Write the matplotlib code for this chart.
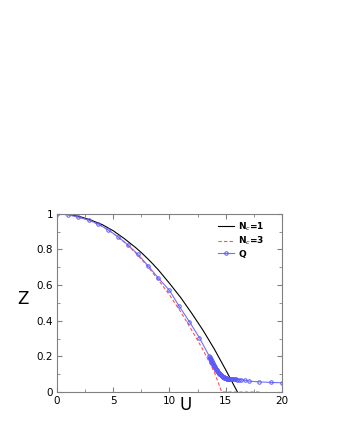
import numpy as np
import matplotlib.pyplot as plt

# N_c = 1 (black solid)
u_nc1 = [0, 1, 2, 3, 4, 5, 6, 7, 7.5, 8, 8.5, 9, 10, 11, 12, 13, 14, 15, 16.05]
z_nc1 = [1.0, 0.996, 0.985, 0.965, 0.94, 0.905, 0.86, 0.81, 0.782, 0.752, 0.72, 0.686, 0.61, 0.53, 0.44, 0.345, 0.24, 0.125, 0.0]

# N_c = 3 (red dashed)
u_nc3 = [0, 1, 2, 3, 4, 5, 6, 7, 8, 9, 10, 11, 12, 13, 14, 14.65, 16, 17, 18]
z_nc3 = [1.0, 0.995, 0.98, 0.96, 0.93, 0.89, 0.84, 0.78, 0.71, 0.63, 0.545, 0.45, 0.345, 0.235, 0.11, 0.0, 0.0, 0.0, 0.0]

# Q (blue, open circles)
u_q = [0, 1, 1.9, 2.8, 3.65, 4.5, 5.4, 6.3, 7.2, 8.1, 9.0, 10.0, 10.85, 11.77, 12.66,
       13.55, 13.58, 13.61, 13.64, 13.67, 13.7, 13.73, 13.76, 13.79, 13.82, 13.85, 13.88,
       13.91, 13.94, 13.97, 14.0, 14.03, 14.06, 14.09, 14.12, 14.15, 14.18, 14.21, 14.24,
       14.27, 14.3, 14.33, 14.36, 14.39, 14.42, 14.45, 14.48, 14.51, 14.54, 14.57, 14.6,
       14.63, 14.66, 14.69, 14.72, 14.75, 14.78, 14.81, 14.84, 14.87, 14.9, 14.93, 14.96,
       14.99, 15.02, 15.05, 15.08, 15.11, 15.15, 15.2, 15.25, 15.3, 15.35, 15.4, 15.45,
       15.5, 15.55, 15.6, 15.7, 15.8, 15.9, 16.0, 16.2, 16.4, 16.7, 17.1, 18.0, 19.0, 20.0]
z_q = [1.0, 0.994, 0.981, 0.965, 0.943, 0.912, 0.872, 0.826, 0.772, 0.708, 0.64, 0.57, 0.483, 0.395, 0.305,
       0.200, 0.196, 0.192, 0.188, 0.184, 0.180, 0.176, 0.172, 0.168, 0.165, 0.161, 0.158,
       0.154, 0.151, 0.147, 0.144, 0.141, 0.138, 0.135, 0.132, 0.129, 0.126, 0.123, 0.121,
       0.118, 0.115, 0.113, 0.110, 0.108, 0.106, 0.104, 0.102, 0.100, 0.098, 0.096, 0.094,
       0.092, 0.090, 0.089, 0.087, 0.086, 0.084, 0.083, 0.082, 0.081, 0.080, 0.079, 0.078,
       0.077, 0.0765, 0.076, 0.0755, 0.075, 0.0747, 0.0744, 0.0741, 0.0738, 0.0735, 0.0732, 0.0729,
       0.0726, 0.0723, 0.072, 0.0715, 0.071, 0.0705, 0.070, 0.069, 0.068, 0.066, 0.061, 0.057, 0.054, 0.052]

fig = plt.figure(figsize=(3.4, 4.4), dpi=100)
ax = fig.add_axes([0.168, 0.109, 0.661, 0.405])

ax.plot(u_nc1, z_nc1, color='black', lw=0.8, label='N$_c$=1')
ax.plot(u_nc3, z_nc3, color='#ff5050', lw=0.8, ls=(0, (3, 2)), label='N$_c$=3')
ax.plot(u_q, z_q, color='#7070ff', lw=0.8, marker='o', ms=2.5, mfc='none', mec='#5a5aff',
        mew=0.7, label='Q')

ax.set_xlim(0, 20)
ax.set_ylim(0, 1)
ax.set_xticks([0, 5, 10, 15, 20])
ax.set_xticklabels(['0', '5', '10', '15', '20'])
ax.set_yticks([0, 0.2, 0.4, 0.6, 0.8, 1])
ax.set_yticklabels(['0', '0.2', '0.4', '0.6', '0.8', '1'])
ax.set_xticks(np.arange(0, 20.1, 2.5), minor=True)
ax.set_yticks(np.arange(0, 1.01, 0.1), minor=True)
ax.tick_params(which='both', direction='in', top=True, right=True, labelsize=7.5, color='#808080', pad=3)
ax.tick_params(which='major', length=3.5)
ax.tick_params(which='minor', length=2)
for s in ax.spines.values():
    s.set_color('#808080')
    s.set_linewidth(0.8)

ax.text(11.4, -0.075, 'U', fontsize=12, ha='center', va='center')
ax.text(-0.15, 0.52, 'Z', fontsize=12, ha='center', va='center', transform=ax.transAxes)

leg = ax.legend(loc='upper right', bbox_to_anchor=(0.94, 0.985), borderaxespad=0,
                frameon=False, fontsize=6.5, handlelength=1.7,
                handletextpad=0.5, labelspacing=0.25)
for t in leg.get_texts():
    t.set_fontweight('bold')

fig.savefig('out.png', dpi=100)
